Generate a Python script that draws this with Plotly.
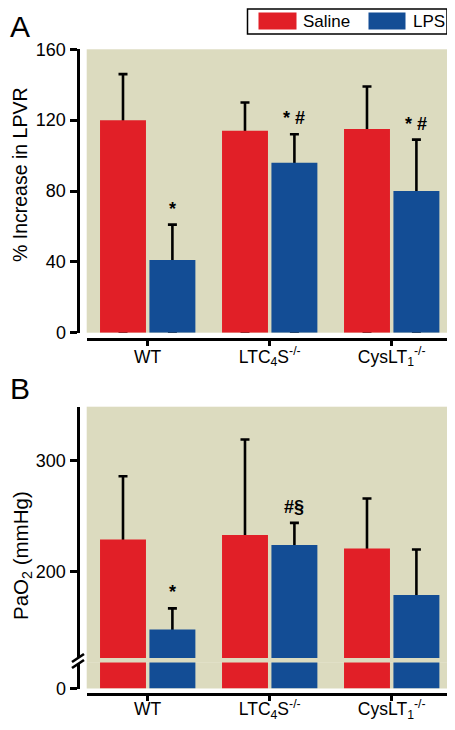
import plotly.graph_objects as go

# ---------------- data ----------------
categories = ["WT", "LTC<sub>4</sub>S<sup>-/-</sup>", "CysLT<sub>1</sub><sup>-/-</sup>"]
series_names = ["Saline", "LPS"]

lpvr_saline = [120, 114, 115]
lpvr_saline_err = [26, 16, 24]
lpvr_lps = [41, 96, 80]
lpvr_lps_err = [20, 16, 29]
lpvr_lps_marks = ["*", "* #", "* #"]

pao2_saline = [229, 233, 221]
pao2_saline_err = [57, 86, 45]
pao2_lps = [148, 224, 179]
pao2_lps_err = [19, 20, 41]
pao2_lps_marks = ["*", "#§", ""]

lpvr_ticks = [0, 40, 80, 120, 160]
pao2_upper_ticks = [200, 300]
pao2_lower_ticks = [0]

# ---------------- style ----------------
# The page body has an 8px margin, so the figure is sized to fit the window exactly.
OFF = 8
W, H = 455 - 2 * OFF, 730 - 2 * OFF
RED = "#E11F27"
BLUE = "#134D95"
BEIGE = "#DCDBBF"
FONT = "Liberation Sans, Arial, sans-serif"
BARGAP = 0.19
BARGROUPGAP = 0.07


def px(x):
    """window pixel x -> paper x"""
    return (x - OFF) / W


def py(y):
    """window pixel y -> paper y"""
    return 1 - (y - OFF) / H


fig = go.Figure()


def add_series(vals, errs, color, name, xa, ya, with_err):
    if with_err:
        # transparent carrier for the (upper-only) error bars, drawn beneath the bars
        fig.add_trace(go.Bar(
            x=categories, y=vals, xaxis=xa, yaxis=ya, offsetgroup=name,
            marker=dict(color="rgba(0,0,0,0)", line_width=0),
            error_y=dict(type="data", symmetric=False, array=errs, arrayminus=vals,
                         color="black", thickness=2.6, width=4.5),
            showlegend=False, hoverinfo="skip"))
    fig.add_trace(go.Bar(
        x=categories, y=vals, xaxis=xa, yaxis=ya, offsetgroup=name, name=name,
        marker=dict(color=color, line_width=0), showlegend=False))


# Panel A
add_series(lpvr_saline, lpvr_saline_err, RED, series_names[0], "x", "y", True)
add_series(lpvr_lps, lpvr_lps_err, BLUE, series_names[1], "x", "y", True)
# Panel B upper
add_series(pao2_saline, pao2_saline_err, RED, series_names[0], "x2", "y2", True)
add_series(pao2_lps, pao2_lps_err, BLUE, series_names[1], "x2", "y2", True)
# Panel B lower (below axis break)
add_series(pao2_saline, pao2_saline_err, RED, series_names[0], "x2", "y3", False)
add_series(pao2_lps, pao2_lps_err, BLUE, series_names[1], "x2", "y3", False)

XDOM = [px(86.7), 1.0]
XRANGE = [-0.5, -0.5 + (447 - 86.7) / 122.0]
YPOS = px(77.5)

common_x = dict(
    domain=XDOM, range=XRANGE, anchor="free", type="category",
    showline=True, linewidth=3, linecolor="black",
    ticks="outside", ticklen=5, tickwidth=3, tickcolor="black",
    tickfont=dict(family=FONT, size=17.5, color="black"),
    showgrid=False, zeroline=False, fixedrange=True,
)
common_y = dict(
    anchor="free", position=YPOS,
    showline=True, linewidth=3, linecolor="black",
    ticks="outside", ticklen=7, tickwidth=3, tickcolor="black",
    tickfont=dict(family=FONT, size=18, color="black"),
    showgrid=False, zeroline=False, fixedrange=True,
)

fig.update_layout(
    width=W, height=H,
    margin=dict(l=0, r=0, t=0, b=0, autoexpand=False),
    paper_bgcolor="white", plot_bgcolor=BEIGE,
    barmode="group", bargap=BARGAP, bargroupgap=BARGROUPGAP,
    showlegend=False,
    font=dict(family=FONT, color="black"),
    xaxis=dict(common_x, position=py(338.5), ticklabelstandoff=-4),
    xaxis2=dict(common_x, position=py(694), ticklabelstandoff=-7),
    yaxis=dict(common_y, domain=[py(332.7), py(49.3)], range=[0, 160], tickvals=lpvr_ticks),
    yaxis2=dict(common_y, domain=[py(658), py(406.7)], range=[122.3, 348.6], tickvals=pao2_upper_ticks),
    yaxis3=dict(common_y, domain=[py(688.5), py(662.5)], range=[0, 23.4], tickvals=pao2_lower_ticks),
)

shapes = []
# beige band in the axis break
shapes.append(dict(type="rect", xref="paper", yref="paper", x0=XDOM[0], x1=XDOM[1],
                   y0=py(662.8), y1=py(657.7), fillcolor=BEIGE, line_width=0, layer="below"))
# break slashes on the y axis
for off in (0, 6):
    shapes.append(dict(type="line", xref="paper", yref="paper",
                       x0=px(72), y0=py(662 + off), x1=px(84), y1=py(654 + off),
                       line=dict(color="black", width=2.6)))
# legend box
LX = -5
shapes.append(dict(type="rect", xref="paper", yref="paper", x0=px(252.5 + LX), x1=px(452 + LX),
                   y0=py(34), y1=py(9), line=dict(color="black", width=1.5), fillcolor="white"))
shapes.append(dict(type="rect", xref="paper", yref="paper", x0=px(263.5 + LX), x1=px(301.5 + LX),
                   y0=py(29.5), y1=py(12.5), line_width=0, fillcolor=RED))
shapes.append(dict(type="rect", xref="paper", yref="paper", x0=px(373.5 + LX), x1=px(410.5 + LX),
                   y0=py(29.5), y1=py(12.5), line_width=0, fillcolor=BLUE))
fig.update_layout(shapes=shapes)

ann = []
# legend labels
ann.append(dict(text=series_names[0], xref="paper", yref="paper", x=px(306 + LX), y=py(21),
                xanchor="left", yanchor="middle", showarrow=False, font=dict(size=17)))
ann.append(dict(text=series_names[1], xref="paper", yref="paper", x=px(416 + LX), y=py(21),
                xanchor="left", yanchor="middle", showarrow=False, font=dict(size=17)))
# panel letters
ann.append(dict(text="A", xref="paper", yref="paper", x=0, y=py(26),
                xanchor="left", yanchor="middle", showarrow=False, font=dict(size=30)))
ann.append(dict(text="B", xref="paper", yref="paper", x=0, y=py(388.5),
                xanchor="left", yanchor="middle", showarrow=False, font=dict(size=30)))
# axis titles
ann.append(dict(text="% Increase in LPVR", xref="paper", yref="paper", x=px(20), y=py(175),
                xanchor="center", yanchor="middle", textangle=-90, showarrow=False,
                font=dict(size=19.5)))
ann.append(dict(text="PaO<sub>2</sub> (mmHg)", xref="paper", yref="paper", x=px(22), y=py(556),
                xanchor="center", yanchor="middle", textangle=-90, showarrow=False,
                font=dict(size=20.5)))

lps_offset = (1 - BARGAP) / 4
for i, m in enumerate(lpvr_lps_marks):
    if m:
        ann.append(dict(text="<b>" + m + "</b>", xref="x", yref="y", x=i + lps_offset,
                        y=lpvr_lps[i] + lpvr_lps_err[i], yanchor="middle", yshift=16,
                        showarrow=False, font=dict(size=18)))
for i, m in enumerate(pao2_lps_marks):
    if m:
        ann.append(dict(text="<b>" + m + "</b>", xref="x2", yref="y2", x=i + lps_offset,
                        y=pao2_lps[i] + pao2_lps_err[i], yanchor="middle", yshift=16,
                        showarrow=False, font=dict(size=18)))
fig.update_layout(annotations=ann)

fig.write_html("out.html")
